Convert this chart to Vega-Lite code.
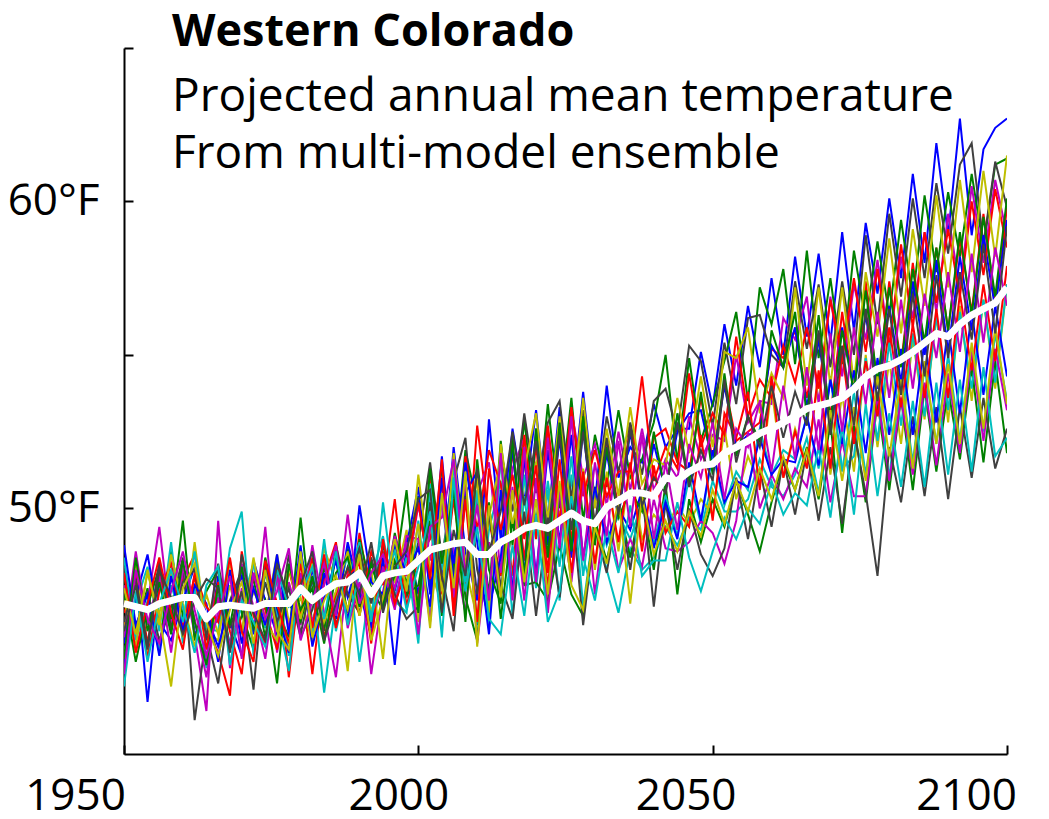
{
"$schema":"https://vega.github.io/schema/vega-lite/v6.json",
"width":883,"height":706,
"autosize":{"type":"none"},
"padding":{"left":124,"top":48,"right":42,"bottom":65},
"background":"white",
"config":{"view":{"stroke":null},"font":"Open Sans"},
"title":{"text":"Western Colorado","subtitle":["Projected annual mean temperature","From multi-model ensemble"],"anchor":"start","frame":"group","orient":"top","offset":-130,"dx":48,"font":"Open Sans","fontSize":45,"fontWeight":"bold","color":"black","subtitleFont":"Open Sans","subtitleFontSize":46,"subtitleColor":"black","subtitleLineHeight":57,"subtitlePadding":20},
"data":{"values":[
{"t":1950,"mean":46.9,"b1":45.6,"g1":47.8,"r1":46.2,"c1":45.3,"m1":47.5,"y1":46.0,"k1":48.1,"b2":44.9,"g2":47.2,"r2":46.6,"c2":48.4,"m2":45.8,"y2":47.0,"k2":46.3,"b3":48.8,"g3":45.1,"r3":47.9,"c3":44.2,"m3":44.6,"y3":47.4,"k3":46.0},
{"t":1952,"mean":46.8,"b1":47.9,"g1":46.1,"r1":48.0,"c1":46.9,"m1":45.4,"y1":48.3,"k1":45.9,"b2":47.1,"g2":45.0,"r2":47.6,"c2":45.7,"m2":48.6,"y2":45.5,"k2":47.7,"b3":46.2,"g3":48.4,"r3":45.3,"c3":47.3,"m3":48.0,"y3":45.9,"k3":47.5},
{"t":1954,"mean":46.7,"b1":43.7,"g1":47.4,"r1":45.6,"c1":48.1,"m1":46.9,"y1":45.2,"k1":47.3,"b2":48.5,"g2":46.8,"r2":45.1,"c2":47.0,"m2":46.2,"y2":48.0,"k2":45.5,"b3":47.2,"g3":46.0,"r3":46.9,"c3":45.0,"m3":46.4,"y3":47.9,"k3":45.4},
{"t":1956,"mean":46.9,"b1":47.6,"g1":45.3,"r1":47.9,"c1":46.0,"m1":49.4,"y1":46.6,"k1":45.7,"b2":46.3,"g2":48.1,"r2":47.3,"c2":45.4,"m2":47.8,"y2":46.2,"k2":48.3,"b3":45.2,"g3":47.6,"r3":48.4,"c3":46.9,"m3":45.6,"y3":46.5,"k3":48.0},
{"t":1958,"mean":47.0,"b1":46.4,"g1":48.6,"r1":46.0,"c1":48.9,"m1":46.2,"y1":47.9,"k1":46.8,"b2":45.7,"g2":46.4,"r2":48.2,"c2":47.5,"m2":45.3,"y2":48.5,"k2":46.1,"b3":47.8,"g3":45.9,"r3":46.6,"c3":48.0,"m3":47.3,"y3":44.2,"k3":47.1},
{"t":1960,"mean":47.1,"b1":48.2,"g1":46.5,"r1":47.7,"c1":45.6,"m1":47.9,"y1":45.8,"k1":48.4,"b2":47.0,"g2":49.6,"r2":46.1,"c2":46.3,"m2":48.1,"y2":46.9,"k2":47.6,"b3":46.0,"g3":48.3,"r3":45.4,"c3":46.8,"m3":48.6,"y3":47.4,"k3":45.9},
{"t":1962,"mean":47.1,"b1":46.0,"g1":47.3,"r1":48.5,"c1":47.4,"m1":45.9,"y1":48.9,"k1":43.1,"b2":48.1,"g2":45.7,"r2":47.8,"c2":48.6,"m2":46.4,"y2":45.5,"k2":48.0,"b3":47.5,"g3":46.3,"r3":47.9,"c3":45.3,"m3":46.7,"y3":48.2,"k3":47.0},
{"t":1964,"mean":46.4,"b1":45.1,"g1":45.9,"r1":46.2,"c1":44.8,"m1":43.4,"y1":46.0,"k1":45.9,"b2":46.5,"g2":47.3,"r2":45.4,"c2":46.1,"m2":44.5,"y2":47.2,"k2":45.8,"b3":46.9,"g3":44.9,"r3":46.8,"c3":47.5,"m3":45.2,"y3":46.3,"k3":47.7},
{"t":1966,"mean":46.8,"b1":47.8,"g1":46.4,"r1":45.3,"c1":47.2,"m1":49.6,"y1":45.7,"k1":44.3,"b2":45.5,"g2":48.0,"r2":47.6,"c2":46.0,"m2":47.1,"y2":45.9,"k2":48.2,"b3":45.0,"g3":47.5,"r3":46.3,"c3":48.1,"m3":46.6,"y3":45.2,"k3":47.4},
{"t":1968,"mean":46.85,"b1":46.3,"g1":47.9,"r1":43.9,"c1":45.6,"m1":44.8,"y1":48.3,"k1":47.0,"b2":46.9,"g2":45.4,"r2":46.0,"c2":48.7,"m2":45.5,"y2":47.5,"k2":46.1,"b3":48.0,"g3":46.2,"r3":48.4,"c3":44.9,"m3":47.8,"y3":46.7,"k3":45.3},
{"t":1970,"mean":46.8,"b1":45.2,"g1":46.6,"r1":48.6,"c1":46.9,"m1":47.4,"y1":45.9,"k1":48.0,"b2":47.8,"g2":46.5,"r2":44.6,"c2":49.9,"m2":48.2,"y2":46.0,"k2":47.3,"b3":45.6,"g3":48.1,"r3":46.0,"c3":47.0,"m3":45.1,"y3":47.6,"k3":48.5},
{"t":1972,"mean":46.75,"b1":48.3,"g1":45.4,"r1":46.5,"c1":48.2,"m1":46.0,"y1":47.3,"k1":45.5,"b2":45.9,"g2":47.7,"r2":47.9,"c2":45.2,"m2":46.8,"y2":48.4,"k2":44.1,"b3":47.4,"g3":46.1,"r3":45.0,"c3":46.3,"m3":47.9,"y3":45.6,"k3":46.6},
{"t":1974,"mean":46.9,"b1":47.0,"g1":48.4,"r1":45.6,"c1":46.1,"m1":49.4,"y1":46.5,"k1":47.6,"b2":48.2,"g2":45.8,"r2":46.7,"c2":47.9,"m2":45.1,"y2":46.3,"k2":48.1,"b3":46.2,"g3":47.0,"r3":48.3,"c3":45.5,"m3":46.4,"y3":48.0,"k3":45.7},
{"t":1976,"mean":46.9,"b1":45.9,"g1":46.7,"r1":48.1,"c1":47.7,"m1":45.3,"y1":48.5,"k1":46.1,"b2":46.6,"g2":48.3,"r2":45.4,"c2":46.5,"m2":47.8,"y2":45.7,"k2":46.3,"b3":48.5,"g3":44.3,"r3":46.9,"c3":48.0,"m3":47.3,"y3":46.0,"k3":48.2},
{"t":1978,"mean":46.9,"b1":48.1,"g1":45.8,"r1":44.5,"c1":45.2,"m1":47.6,"y1":46.3,"k1":48.5,"b2":45.3,"g2":46.9,"r2":48.0,"c2":44.7,"m2":46.1,"y2":48.1,"k2":47.4,"b3":45.9,"g3":48.2,"r3":45.6,"c3":46.8,"m3":48.7,"y3":45.4,"k3":47.0},
{"t":1980,"mean":47.4,"b1":46.6,"g1":49.7,"r1":47.8,"c1":48.4,"m1":46.2,"y1":47.1,"k1":45.9,"b2":48.7,"g2":46.3,"r2":46.5,"c2":48.3,"m2":47.9,"y2":46.4,"k2":45.8,"b3":48.8,"g3":46.7,"r3":48.2,"c3":47.2,"m3":45.7,"y3":48.6,"k3":47.5},
{"t":1982,"mean":47.0,"b1":48.0,"g1":46.2,"r1":44.6,"c1":47.5,"m1":48.8,"y1":45.6,"k1":47.7,"b2":46.0,"g2":47.8,"r2":48.4,"c2":45.9,"m2":46.3,"y2":48.2,"k2":46.7,"b3":45.5,"g3":47.4,"r3":46.1,"c3":48.1,"m3":47.0,"y3":45.8,"k3":48.6},
{"t":1984,"mean":47.3,"b1":46.2,"g1":48.1,"r1":47.7,"c1":44.0,"m1":46.6,"y1":48.7,"k1":46.0,"b2":47.9,"g2":46.1,"r2":45.8,"c2":49.0,"m2":47.5,"y2":46.3,"k2":48.4,"b3":47.1,"g3":45.6,"r3":48.5,"c3":46.4,"m3":48.2,"y3":47.0,"k3":45.7},
{"t":1986,"mean":47.55,"b1":48.6,"g1":46.5,"r1":48.9,"c1":47.0,"m1":44.5,"y1":47.6,"k1":48.8,"b2":46.4,"g2":48.5,"r2":47.2,"c2":46.0,"m2":48.8,"y2":47.3,"k2":46.2,"b3":48.3,"g3":47.9,"r3":46.1,"c3":48.6,"m3":46.5,"y3":47.8,"k3":46.9},
{"t":1988,"mean":47.6,"b1":47.1,"g1":48.7,"r1":46.3,"c1":48.5,"m1":47.9,"y1":44.7,"k1":47.2,"b2":48.9,"g2":46.6,"r2":48.0,"c2":47.7,"m2":46.1,"y2":48.6,"k2":47.5,"b3":46.3,"g3":48.4,"r3":47.8,"c3":46.2,"m3":49.8,"y3":46.7,"k3":48.1},
{"t":1990,"mean":47.9,"b1":48.5,"g1":47.0,"r1":49.2,"c1":45.0,"m1":48.3,"y1":48.8,"k1":46.6,"b2":47.3,"g2":49.0,"r2":46.5,"c2":48.9,"m2":47.6,"y2":46.5,"k2":48.7,"b3":50.1,"g3":46.8,"r3":48.2,"c3":47.9,"m3":46.9,"y3":48.5,"k3":47.2},
{"t":1992,"mean":47.2,"b1":46.1,"g1":48.3,"r1":47.0,"c1":47.8,"m1":44.6,"y1":46.6,"k1":48.4,"b2":45.9,"g2":47.4,"r2":48.6,"c2":46.3,"m2":45.8,"y2":48.0,"k2":46.9,"b3":47.6,"g3":48.2,"r3":45.6,"c3":46.5,"m3":47.9,"y3":45.7,"k3":48.9},
{"t":1994,"mean":47.8,"b1":48.9,"g1":46.8,"r1":48.6,"c1":49.1,"m1":47.3,"y1":48.2,"k1":46.9,"b2":48.4,"g2":46.7,"r2":47.5,"c2":50.2,"m2":48.1,"y2":45.1,"k2":48.8,"b3":47.2,"g3":46.9,"r3":49.0,"c3":47.7,"m3":48.5,"y3":47.1,"k3":46.6},
{"t":1996,"mean":47.9,"b1":47.3,"g1":49.2,"r1":46.8,"c1":47.0,"m1":49.1,"y1":47.6,"k1":48.9,"b2":44.9,"g2":48.3,"r2":50.3,"c2":47.1,"m2":46.7,"y2":48.9,"k2":47.2,"b3":48.8,"g3":47.8,"r3":46.9,"c3":48.6,"m3":47.4,"y3":49.0,"k3":48.1},
{"t":1998,"mean":47.95,"b1":49.0,"g1":47.5,"r1":48.5,"c1":46.6,"m1":47.8,"y1":49.3,"k1":47.1,"b2":48.8,"g2":47.2,"r2":46.8,"c2":48.4,"m2":49.1,"y2":47.3,"k2":46.4,"b3":47.9,"g3":50.6,"r3":48.0,"c3":46.7,"m3":48.9,"y3":47.4,"k3":48.6},
{"t":2000,"mean":48.3,"b1":47.2,"g1":50.4,"r1":46.9,"c1":49.6,"m1":50.1,"y1":46.3,"k1":48.9,"b2":50.7,"g2":47.5,"r2":48.4,"c2":45.6,"m2":49.0,"y2":51.1,"k2":46.8,"b3":48.7,"g3":46.6,"r3":50.2,"c3":48.1,"m3":45.9,"y3":49.5,"k3":50.3},
{"t":2002,"mean":48.65,"b1":50.6,"g1":47.4,"r1":51.2,"c1":46.5,"m1":48.3,"y1":50.1,"k1":51.5,"b2":47.2,"g2":49.6,"r2":49.0,"c2":50.8,"m2":46.3,"y2":48.0,"k2":50.2,"b3":46.8,"g3":51.3,"r3":47.7,"c3":49.9,"m3":49.4,"y3":46.1,"k3":50.6},
{"t":2004,"mean":48.75,"b1":47.5,"g1":51.4,"r1":47.2,"c1":50.3,"m1":51.0,"y1":47.3,"k1":48.4,"b2":51.7,"g2":46.5,"r2":50.8,"c2":48.0,"m2":50.4,"y2":46.9,"k2":47.8,"b3":51.0,"g3":48.2,"r3":51.6,"c3":45.8,"m3":49.7,"y3":50.5,"k3":46.6},
{"t":2006,"mean":48.85,"b1":52.0,"g1":47.9,"r1":50.3,"c1":47.0,"m1":48.6,"y1":51.5,"k1":50.9,"b2":47.6,"g2":50.9,"r2":46.7,"c2":51.4,"m2":47.1,"y2":51.8,"k2":46.0,"b3":48.2,"g3":50.6,"r3":46.5,"c3":51.0,"m3":51.6,"y3":47.4,"k3":49.3},
{"t":2008,"mean":48.9,"b1":48.6,"g1":51.9,"r1":47.5,"c1":50.8,"m1":46.6,"y1":48.1,"k1":52.3,"b2":50.5,"g2":47.1,"r2":51.7,"c2":47.6,"m2":51.0,"y2":48.1,"k2":50.4,"b3":51.5,"g3":46.3,"r3":50.3,"c3":47.3,"m3":47.9,"y3":51.2,"k3":47.8},
{"t":2010,"mean":48.5,"b1":47.0,"g1":50.1,"r1":52.7,"c1":46.2,"m1":50.5,"y1":46.4,"k1":48.0,"b2":51.2,"g2":45.7,"r2":49.3,"c2":50.6,"m2":45.6,"y2":51.0,"k2":47.2,"b3":48.9,"g3":51.6,"r3":46.3,"c3":49.4,"m3":50.1,"y3":45.5,"k3":51.3},
{"t":2012,"mean":48.5,"b1":52.9,"g1":47.2,"r1":49.6,"c1":49.3,"m1":51.5,"y1":49.7,"k1":46.4,"b2":46.8,"g2":50.2,"r2":51.9,"c2":46.1,"m2":48.9,"y2":46.6,"k2":49.8,"b3":45.9,"g3":48.0,"r3":51.3,"c3":46.4,"m3":47.0,"y3":50.1,"k3":48.6},
{"t":2014,"mean":48.9,"b1":49.0,"g1":52.2,"r1":47.8,"c1":50.9,"m1":47.9,"y1":51.6,"k1":51.9,"b2":48.4,"g2":46.4,"r2":50.8,"c2":51.7,"m2":47.2,"y2":52.1,"k2":47.5,"b3":50.6,"g3":46.9,"r3":49.3,"c3":45.9,"m3":51.8,"y3":47.1,"k3":49.9},
{"t":2016,"mean":49.1,"b1":52.6,"g1":48.8,"r1":51.9,"c1":46.5,"m1":51.3,"y1":47.2,"k1":49.9,"b2":52.0,"g2":49.6,"r2":47.8,"c2":47.4,"m2":50.7,"y2":49.5,"k2":46.4,"b3":47.3,"g3":52.3,"r3":51.1,"c3":48.8,"m3":47.0,"y3":50.6,"k3":52.5},
{"t":2018,"mean":49.35,"b1":50.2,"g1":52.9,"r1":48.3,"c1":50.4,"m1":52.3,"y1":50.9,"k1":53.1,"b2":47.8,"g2":47.5,"r2":52.4,"c2":51.1,"m2":47.0,"y2":51.3,"k2":49.9,"b3":51.7,"g3":47.7,"r3":49.0,"c3":46.5,"m3":52.0,"y3":47.6,"k3":50.1},
{"t":2020,"mean":49.45,"b1":53.2,"g1":49.4,"r1":52.1,"c1":47.4,"m1":49.1,"y1":51.5,"k1":50.5,"b2":52.6,"g2":47.6,"r2":49.0,"c2":47.6,"m2":51.0,"y2":53.1,"k2":46.5,"b3":47.8,"g3":52.6,"r3":51.4,"c3":49.8,"m3":47.6,"y3":50.3,"k3":52.2},
{"t":2022,"mean":49.35,"b1":49.6,"g1":53.4,"r1":47.9,"c1":50.6,"m1":52.6,"y1":46.9,"k1":52.8,"b2":48.8,"g2":47.0,"r2":52.7,"c2":50.9,"m2":46.6,"y2":49.6,"k2":49.7,"b3":51.9,"g3":48.4,"r3":47.4,"c3":46.3,"m3":52.3,"y3":47.2,"k3":49.1},
{"t":2024,"mean":49.6,"b1":53.3,"g1":50.0,"r1":52.6,"c1":47.0,"m1":49.6,"y1":49.9,"k1":53.5,"b2":52.3,"g2":48.8,"r2":49.5,"c2":48.1,"m2":50.6,"y2":53.0,"k2":47.1,"b3":48.9,"g3":52.8,"r3":51.6,"c3":47.3,"m3":48.7,"y3":50.9,"k3":52.4},
{"t":2026,"mean":49.85,"b1":50.1,"g1":53.6,"r1":48.9,"c1":51.1,"m1":53.2,"y1":47.8,"k1":50.3,"b2":48.4,"g2":47.2,"r2":53.3,"c2":51.7,"m2":47.6,"y2":49.8,"k2":50.3,"b3":52.4,"g3":48.6,"r3":47.9,"c3":50.4,"m3":53.0,"y3":47.5,"k3":49.3},
{"t":2028,"mean":49.6,"b1":53.8,"g1":49.6,"r1":52.8,"c1":46.8,"m1":51.0,"y1":51.3,"k1":53.2,"b2":52.6,"g2":46.5,"r2":50.4,"c2":47.8,"m2":50.9,"y2":53.6,"k2":46.2,"b3":48.4,"g3":53.0,"r3":51.2,"c3":48.4,"m3":48.3,"y3":46.7,"k3":52.5},
{"t":2030,"mean":49.5,"b1":50.2,"g1":52.4,"r1":49.3,"c1":49.6,"m1":52.1,"y1":48.0,"k1":50.1,"b2":49.1,"g2":49.6,"r2":51.9,"c2":50.7,"m2":47.2,"y2":50.0,"k2":49.4,"b3":50.7,"g3":48.8,"r3":48.2,"c3":47.0,"m3":51.5,"y3":49.4,"k3":49.5},
{"t":2032,"mean":50.05,"b1":54.0,"g1":50.7,"r1":52.2,"c1":48.0,"m1":50.1,"y1":51.2,"k1":53.0,"b2":51.8,"g2":48.3,"r2":50.4,"c2":48.8,"m2":50.2,"y2":52.6,"k2":47.9,"b3":48.9,"g3":52.0,"r3":51.0,"c3":49.4,"m3":49.1,"y3":48.2,"k3":52.3},
{"t":2034,"mean":50.25,"b1":51.0,"g1":53.2,"r1":50.0,"c1":46.6,"m1":52.5,"y1":48.6,"k1":51.2,"b2":49.7,"g2":50.1,"r2":51.2,"c2":49.8,"m2":48.0,"y2":50.4,"k2":50.2,"b3":50.0,"g3":49.7,"r3":48.9,"c3":47.9,"m3":52.2,"y3":50.3,"k3":49.8},
{"t":2036,"mean":50.5,"b1":52.0,"g1":51.0,"r1":52.7,"c1":48.7,"m1":50.6,"y1":51.4,"k1":52.8,"b2":52.5,"g2":48.4,"r2":51.2,"c2":49.0,"m2":49.0,"y2":53.3,"k2":48.0,"b3":49.3,"g3":50.6,"r3":51.5,"c3":50.1,"m3":49.4,"y3":46.9,"k3":52.6},
{"t":2038,"mean":50.5,"b1":51.5,"g1":51.6,"r1":50.2,"c1":48.0,"m1":52.6,"y1":49.0,"k1":51.1,"b2":50.0,"g2":50.3,"r2":54.3,"c2":50.2,"m2":48.1,"y2":50.8,"k2":50.6,"b3":50.6,"g3":49.9,"r3":48.6,"c3":47.8,"m3":52.4,"y3":50.4,"k3":50.1},
{"t":2040,"mean":50.4,"b1":53.4,"g1":52.8,"r1":52.3,"c1":48.4,"m1":50.6,"y1":49.8,"k1":53.5,"b2":52.1,"g2":48.0,"r2":50.9,"c2":48.9,"m2":50.3,"y2":51.6,"k2":46.8,"b3":48.7,"g3":52.5,"r3":51.4,"c3":48.3,"m3":49.0,"y3":48.5,"k3":51.0},
{"t":2042,"mean":51.0,"b1":52.0,"g1":55.0,"r1":52.6,"c1":49.4,"m1":51.6,"y1":49.3,"k1":53.9,"b2":50.6,"g2":50.8,"r2":52.0,"c2":50.4,"m2":48.7,"y2":51.4,"k2":50.2,"b3":50.2,"g3":50.5,"r3":49.2,"c3":48.3,"m3":51.5,"y3":49.6,"k3":50.5},
{"t":2044,"mean":50.9,"b1":52.6,"g1":51.5,"r1":51.5,"c1":48.8,"m1":51.0,"y1":50.1,"k1":52.5,"b2":52.5,"g2":47.2,"r2":51.3,"c2":49.1,"m2":48.6,"y2":53.6,"k2":48.0,"b3":49.0,"g3":53.1,"r3":49.9,"c3":50.2,"m3":49.3,"y3":48.6,"k3":52.8},
{"t":2046,"mean":51.2,"b1":52.6,"g1":54.9,"r1":51.2,"c1":49.7,"m1":53.0,"y1":49.5,"k1":55.3,"b2":53.1,"g2":50.3,"r2":54.4,"c2":51.0,"m2":48.9,"y2":51.8,"k2":50.0,"b3":51.5,"g3":50.8,"r3":49.4,"c3":48.4,"m3":52.1,"y3":49.9,"k3":50.7},
{"t":2048,"mean":51.4,"b1":55.1,"g1":52.2,"r1":53.6,"c1":49.3,"m1":51.6,"y1":50.3,"k1":54.8,"b2":53.2,"g2":48.9,"r2":52.0,"c2":49.5,"m2":49.6,"y2":54.3,"k2":48.5,"b3":49.6,"g3":53.8,"r3":52.4,"c3":47.3,"m3":51.0,"y3":49.1,"k3":51.9},
{"t":2050,"mean":51.45,"b1":53.3,"g1":53.4,"r1":51.6,"c1":50.9,"m1":52.4,"y1":49.8,"k1":52.7,"b2":51.5,"g2":50.3,"r2":53.1,"c2":51.8,"m2":49.2,"y2":52.0,"k2":47.8,"b3":51.9,"g3":51.1,"r3":49.6,"c3":48.6,"m3":52.8,"y3":50.6,"k3":50.9},
{"t":2052,"mean":51.8,"b1":56.0,"g1":54.8,"r1":54.1,"c1":49.9,"m1":52.2,"y1":52.6,"k1":55.4,"b2":54.0,"g2":49.4,"r2":52.4,"c2":50.1,"m2":48.2,"y2":55.1,"k2":48.7,"b3":50.2,"g3":54.4,"r3":53.1,"c3":49.7,"m3":50.3,"y3":49.5,"k3":54.2},
{"t":2054,"mean":52.0,"b1":54.0,"g1":56.4,"r1":52.2,"c1":49.9,"m1":55.0,"y1":50.3,"k1":53.4,"b2":52.0,"g2":50.9,"r2":55.6,"c2":51.2,"m2":49.6,"y2":54.9,"k2":51.0,"b3":50.9,"g3":51.7,"r3":52.3,"c3":49.0,"m3":52.6,"y3":50.9,"k3":51.5},
{"t":2056,"mean":52.2,"b1":56.6,"g1":53.5,"r1":52.5,"c1":50.3,"m1":52.8,"y1":51.7,"k1":56.2,"b2":52.4,"g2":49.8,"r2":53.0,"c2":50.6,"m2":52.5,"y2":55.9,"k2":49.0,"b3":50.7,"g3":53.0,"r3":53.8,"c3":50.0,"m3":52.0,"y3":49.9,"k3":53.0},
{"t":2058,"mean":52.45,"b1":54.6,"g1":57.2,"r1":52.8,"c1":51.6,"m1":53.5,"y1":50.8,"k1":56.3,"b2":52.5,"g2":48.6,"r2":54.2,"c2":52.6,"m2":50.0,"y2":53.1,"k2":51.3,"b3":52.3,"g3":52.2,"r3":50.6,"c3":49.5,"m3":53.5,"y3":51.3,"k3":52.0},
{"t":2060,"mean":52.6,"b1":57.5,"g1":56.0,"r1":55.2,"c1":50.7,"m1":53.4,"y1":53.9,"k1":55.0,"b2":55.3,"g2":50.2,"r2":53.6,"c2":51.1,"m2":51.1,"y2":54.4,"k2":49.4,"b3":51.1,"g3":55.8,"r3":54.3,"c3":50.9,"m3":51.2,"y3":50.3,"k3":54.0},
{"t":2062,"mean":52.8,"b1":55.0,"g1":57.8,"r1":54.9,"c1":50.4,"m1":56.2,"y1":51.0,"k1":54.6,"b2":54.6,"g2":51.5,"r2":55.3,"c2":51.9,"m2":50.3,"y2":53.6,"k2":51.6,"b3":51.6,"g3":54.6,"r3":51.0,"c3":49.8,"m3":54.0,"y3":51.7,"k3":52.3},
{"t":2064,"mean":53.0,"b1":58.2,"g1":54.7,"r1":55.8,"c1":51.1,"m1":55.5,"y1":52.6,"k1":57.4,"b2":55.9,"g2":50.6,"r2":54.1,"c2":51.6,"m2":51.3,"y2":57.2,"k2":49.8,"b3":51.5,"g3":56.4,"r3":52.5,"c3":50.5,"m3":51.6,"y3":50.6,"k3":53.8},
{"t":2066,"mean":53.25,"b1":55.6,"g1":58.4,"r1":53.6,"c1":52.3,"m1":56.9,"y1":51.4,"k1":55.2,"b2":53.3,"g2":52.0,"r2":55.9,"c2":53.0,"m2":50.7,"y2":54.0,"k2":51.9,"b3":53.0,"g3":53.0,"r3":51.3,"c3":50.1,"m3":54.6,"y3":51.9,"k3":52.7},
{"t":2068,"mean":53.35,"b1":58.3,"g1":54.9,"r1":55.7,"c1":50.5,"m1":53.4,"y1":54.3,"k1":57.3,"b2":55.5,"g2":50.3,"r2":53.9,"c2":51.3,"m2":52.9,"y2":57.2,"k2":49.6,"b3":51.4,"g3":56.3,"r3":54.5,"c3":52.0,"m3":51.9,"y3":50.4,"k3":55.8},
{"t":2070,"mean":53.45,"b1":55.4,"g1":57.5,"r1":53.0,"c1":53.1,"m1":56.9,"y1":51.1,"k1":54.6,"b2":52.8,"g2":52.8,"r2":56.8,"c2":54.3,"m2":50.2,"y2":54.0,"k2":52.0,"b3":54.2,"g3":52.8,"r3":51.3,"c3":49.7,"m3":55.7,"y3":53.2,"k3":52.4},
{"t":2072,"mean":53.6,"b1":59.0,"g1":54.7,"r1":56.4,"c1":51.2,"m1":54.3,"y1":53.7,"k1":57.4,"b2":55.9,"g2":49.2,"r2":54.9,"c2":51.3,"m2":52.2,"y2":57.2,"k2":49.5,"b3":52.1,"g3":55.8,"r3":55.1,"c3":52.7,"m3":52.5,"y3":50.9,"k3":55.3},
{"t":2074,"mean":53.9,"b1":55.8,"g1":58.4,"r1":53.8,"c1":53.8,"m1":57.3,"y1":51.2,"k1":55.0,"b2":53.9,"g2":52.7,"r2":57.5,"c2":51.7,"m2":50.4,"y2":54.1,"k2":52.5,"b3":54.5,"g3":53.8,"r3":52.1,"c3":49.8,"m3":55.9,"y3":53.3,"k3":52.7},
{"t":2076,"mean":54.3,"b1":59.3,"g1":56.1,"r1":57.4,"c1":51.1,"m1":55.5,"y1":55.0,"k1":58.9,"b2":56.3,"g2":50.2,"r2":55.1,"c2":54.9,"m2":50.4,"y2":57.7,"k2":50.5,"b3":51.8,"g3":57.1,"r3":54.8,"c3":53.4,"m3":53.4,"y3":50.9,"k3":56.5},
{"t":2078,"mean":54.55,"b1":57.0,"g1":58.7,"r1":53.9,"c1":53.8,"m1":58.1,"y1":52.0,"k1":56.0,"b2":53.9,"g2":53.5,"r2":57.8,"c2":52.2,"m2":53.7,"y2":55.6,"k2":47.8,"b3":54.9,"g3":54.1,"r3":53.0,"c3":50.4,"m3":56.4,"y3":54.3,"k3":53.5},
{"t":2080,"mean":54.65,"b1":60.1,"g1":56.3,"r1":57.4,"c1":51.0,"m1":55.3,"y1":54.8,"k1":59.6,"b2":56.6,"g2":50.6,"r2":55.2,"c2":55.4,"m2":50.9,"y2":58.8,"k2":52.0,"b3":52.4,"g3":57.2,"r3":55.9,"c3":53.1,"m3":53.6,"y3":51.7,"k3":56.5},
{"t":2082,"mean":54.85,"b1":57.5,"g1":59.4,"r1":54.7,"c1":54.3,"m1":58.2,"y1":52.1,"k1":56.9,"b2":54.1,"g2":53.6,"r2":58.6,"c2":52.7,"m2":53.6,"y2":55.7,"k2":50.2,"b3":55.2,"g3":54.6,"r3":53.3,"c3":50.7,"m3":56.8,"y3":54.2,"k3":53.7},
{"t":2084,"mean":55.1,"b1":60.9,"g1":56.8,"r1":58.0,"c1":51.5,"m1":56.2,"y1":55.5,"k1":60.1,"b2":57.4,"g2":50.6,"r2":55.9,"c2":55.7,"m2":51.1,"y2":59.1,"k2":53.0,"b3":52.4,"g3":57.8,"r3":56.0,"c3":53.5,"m3":53.9,"y3":51.3,"k3":57.0},
{"t":2086,"mean":55.4,"b1":58.0,"g1":60.2,"r1":55.2,"c1":54.6,"m1":59.0,"y1":52.9,"k1":57.5,"b2":55.0,"g2":53.9,"r2":59.0,"c2":53.0,"m2":54.1,"y2":56.6,"k2":50.4,"b3":55.5,"g3":55.4,"r3":53.6,"c3":50.7,"m3":57.0,"y3":54.8,"k3":54.3},
{"t":2088,"mean":55.7,"b1":61.9,"g1":57.7,"r1":58.5,"c1":52.1,"m1":56.4,"y1":56.3,"k1":60.6,"b2":58.1,"g2":51.2,"r2":56.7,"c2":56.3,"m2":51.4,"y2":60.2,"k2":53.3,"b3":52.8,"g3":58.5,"r3":56.5,"c3":54.1,"m3":54.9,"y3":52.1,"k3":57.6},
{"t":2090,"mean":55.6,"b1":58.9,"g1":60.3,"r1":55.8,"c1":55.0,"m1":59.6,"y1":52.8,"k1":58.3,"b2":55.1,"g2":53.9,"r2":59.1,"c2":53.2,"m2":54.4,"y2":57.2,"k2":50.3,"b3":55.9,"g3":55.8,"r3":53.6,"c3":51.1,"m3":57.7,"y3":54.7,"k3":54.9},
{"t":2092,"mean":56.0,"b1":62.7,"g1":58.2,"r1":58.8,"c1":52.2,"m1":57.1,"y1":56.6,"k1":61.2,"b2":58.2,"g2":51.6,"r2":56.9,"c2":56.4,"m2":51.8,"y2":60.7,"k2":53.3,"b3":53.1,"g3":59.0,"r3":57.0,"c3":54.2,"m3":55.1,"y3":52.1,"k3":57.7},
{"t":2094,"mean":56.3,"b1":58.9,"g1":60.9,"r1":56.4,"c1":55.2,"m1":60.5,"y1":53.5,"k1":61.9,"b2":55.8,"g2":54.6,"r2":60.0,"c2":53.9,"m2":55.1,"y2":57.7,"k2":51.0,"b3":56.4,"g3":56.3,"r3":54.5,"c3":51.2,"m3":58.3,"y3":55.4,"k3":55.5},
{"t":2096,"mean":56.5,"b1":61.7,"g1":58.5,"r1":59.6,"c1":52.5,"m1":58.0,"y1":56.8,"k1":58.6,"b2":58.9,"g2":51.5,"r2":57.6,"c2":56.8,"m2":52.2,"y2":61.0,"k2":53.6,"b3":53.7,"g3":59.5,"r3":57.3,"c3":54.6,"m3":55.4,"y3":52.6,"k3":58.6},
{"t":2098,"mean":56.7,"b1":62.4,"g1":61.2,"r1":56.7,"c1":55.7,"m1":60.7,"y1":53.9,"k1":61.3,"b2":56.5,"g2":54.8,"r2":60.4,"c2":54.1,"m2":55.2,"y2":58.2,"k2":51.3,"b3":56.6,"g3":56.9,"r3":54.8,"c3":51.7,"m3":58.5,"y3":55.9,"k3":55.7},
{"t":2100,"mean":57.2,"b1":62.7,"g1":61.4,"r1":59.8,"c1":53.5,"m1":58.9,"y1":57.3,"k1":59.8,"b2":59.4,"g2":51.8,"r2":58.5,"c2":57.3,"m2":53.2,"y2":61.5,"k2":52.6,"b3":54.3,"g3":60.1,"r3":57.9,"c3":52.3,"m3":56.6,"y3":53.4,"k3":59.2}
]},
"encoding":{
"x":{"field":"t","type":"quantitative","scale":{"domain":[1950,2100],"nice":false,"zero":false},
"axis":{"title":null,"values":[1950,2000,2050,2100],"format":"d","grid":false,"domainColor":"black","domainWidth":2,"tickColor":"black","tickWidth":2,"tickSize":-9,"labelFont":"Open Sans","labelFontSize":44,"labelColor":"black","labelPadding":29,"labelFlush":false,"labelOverlap":false,"labelOffset":{"expr":"datum.value==1950?-49:datum.value==2000?-20:datum.value==2050?-27:-41"}}}
},
"layer":[
{"transform":[{"fold":["b1","g1","r1","c1","m1","y1","k1","b2","g2","r2","c2","m2","y2","k2","b3","g3","r3","c3","m3","y3","k3"],"as":["model","v"]}],
"mark":{"type":"line","strokeWidth":2,"clip":true},
"encoding":{
"y":{"field":"v","type":"quantitative","scale":{"domain":[42,65],"nice":false,"zero":false},
"axis":{"title":null,"values":[50,55,60,65],"grid":false,"domainColor":"black","domainWidth":2,"tickColor":"black","tickWidth":2,"tickSize":-9,"labelFont":"Open Sans","labelFontSize":44,"labelColor":"black","labelPadding":34,"labelExpr":"datum.value==50||datum.value==60?datum.value+'°F':''"}},
"color":{"field":"model","type":"nominal","legend":null,
"scale":{"domain":["b1","g1","r1","c1","m1","y1","k1","b2","g2","r2","c2","m2","y2","k2","b3","g3","r3","c3","m3","y3","k3"],
"range":["#0000ff","#008000","#ff0000","#00bfbf","#bf00bf","#bfbf00","#404040","#0000ff","#008000","#ff0000","#00bfbf","#bf00bf","#bfbf00","#404040","#0000ff","#008000","#ff0000","#00bfbf","#bf00bf","#bfbf00","#404040"]}}
}},
{"mark":{"type":"line","color":"white","strokeWidth":7,"strokeJoin":"round"},
"encoding":{
"y":{"field":"mean","type":"quantitative","scale":{"domain":[42,65],"nice":false,"zero":false},
"axis":{"title":null,"values":[50,55,60,65],"grid":false,"domainColor":"black","domainWidth":2,"tickColor":"black","tickWidth":2,"tickSize":-9,"labelFont":"Open Sans","labelFontSize":44,"labelColor":"black","labelPadding":34,"labelExpr":"datum.value==50||datum.value==60?datum.value+'°F':''"}}
}}
]
}
